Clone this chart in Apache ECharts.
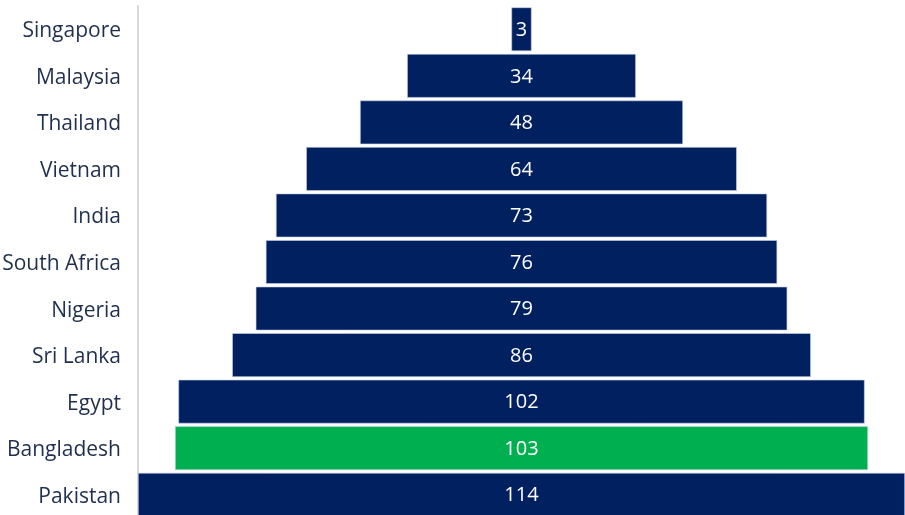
<!DOCTYPE html>
<html>
<head>
<meta charset="utf-8">
<script src="https://cdn.jsdelivr.net/npm/echarts@6/dist/echarts.min.js"></script>
<style>
  html, body { margin: 0; padding: 0; background: #ffffff; }
  #chart { width: 905px; height: 515px; }
</style>
</head>
<body>
<div id="chart"></div>
<script>
// Countries, top to bottom, and their values
const countries = ['Singapore', 'Malaysia', 'Thailand', 'Vietnam', 'India', 'South Africa', 'Nigeria', 'Sri Lanka', 'Egypt', 'Bangladesh', 'Pakistan'];
const values = [3, 34, 48, 64, 73, 76, 79, 86, 102, 103, 114];
const highlighted = 'Bangladesh';

const NAVY = '#002060';
const GREEN = '#00B050';

const maxValue = Math.max(...values);
// Transparent spacer so each bar is centred on the widest one
const spacer = values.map(v => (maxValue - v) / 2);

const chart = echarts.init(document.getElementById('chart'));
chart.setOption({
  animation: false,
  grid: { left: 138, right: 0, top: 6, bottom: -3, containLabel: false, outerBoundsMode: 'none' },
  xAxis: {
    type: 'value',
    min: 0,
    max: maxValue,
    show: false
  },
  yAxis: {
    type: 'category',
    data: countries,
    inverse: true,
    axisLine: { show: true, lineStyle: { color: '#d9d9d9', width: 2 } },
    axisTick: { show: false },
    axisLabel: {
      color: '#1f2f4d',
      fontFamily: 'Open Sans',
      fontSize: 21,
      margin: 17,
      verticalAlign: 'top',
      lineHeight: 4
    }
  },
  series: [
    {
      type: 'bar',
      stack: 'pyramid',
      data: spacer,
      itemStyle: { color: 'transparent' },
      barCategoryGap: '6%',
      silent: true
    },
    {
      type: 'bar',
      stack: 'pyramid',
      data: values.map((v, i) => ({
        value: v,
        itemStyle: { color: countries[i] === highlighted ? GREEN : NAVY }
      })),
      barCategoryGap: '6%',
      itemStyle: { borderColor: '#c9d3e6', borderWidth: 0.6 },
      label: {
        show: true,
        position: 'inside',
        color: '#ffffff',
        fontFamily: 'Open Sans',
        fontSize: 20,
        offset: [0, 1]
      }
    }
  ]
});
</script>
</body>
</html>
